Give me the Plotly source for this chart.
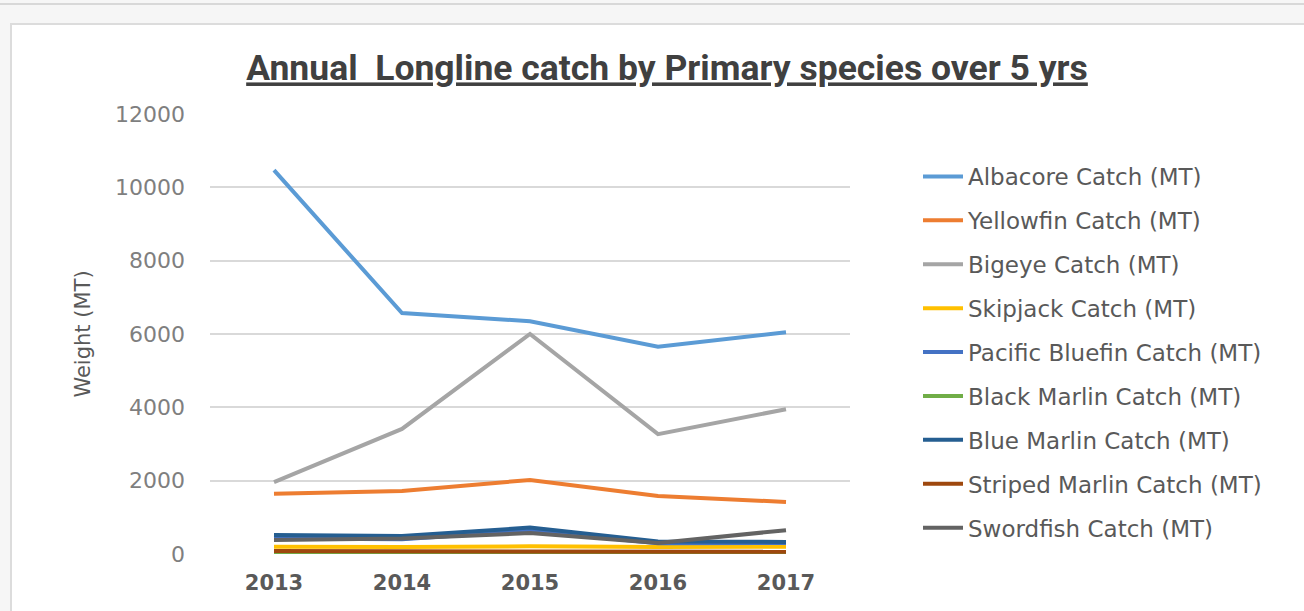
import plotly.graph_objects as go

years = [2013, 2014, 2015, 2016, 2017]
albacore = [10470, 6570, 6350, 5650, 6050]
yellowfin = [1640, 1720, 2020, 1580, 1420]
bigeye = [1960, 3410, 6000, 3270, 3950]
skipjack = [200, 190, 210, 190, 200]
pacific_bluefin = [420, 400, 640, 290, 300]
black_marlin = [30, 25, 30, 25, 30]
blue_marlin = [520, 490, 720, 340, 330]
striped_marlin = [80, 70, 70, 70, 60]
swordfish = [380, 420, 570, 300, 650]

series = [
    ("Albacore Catch (MT)", albacore, "#5B9BD5"),
    ("Yellowfin Catch (MT)", yellowfin, "#ED7D31"),
    ("Bigeye Catch (MT)", bigeye, "#A5A5A5"),
    ("Skipjack Catch (MT)", skipjack, "#FFC000"),
    ("Pacific Bluefin Catch (MT)", pacific_bluefin, "#4472C4"),
    ("Black Marlin Catch (MT)", black_marlin, "#70AD47"),
    ("Blue Marlin Catch (MT)", blue_marlin, "#255E91"),
    ("Striped Marlin Catch (MT)", striped_marlin, "#9E480E"),
    ("Swordfish Catch (MT)", swordfish, "#636363"),
]

fig = go.Figure()
for i, (name, vals, col) in enumerate(series):
    fig.add_trace(go.Scatter(x=years, y=vals, mode="lines", name=name,
                             legendgroup=f"g{i}",
                             line=dict(color=col, width=4)))

W, H = 1304, 611
L, R, T, B = 210, 850, 114, 554


def sx(p):
    return (p - L) / (R - L)


def sy(p):
    return (B - p) / (B - T)


shapes = [
    dict(type="line", xref="paper", yref="paper", x0=sx(0), x1=sx(W), y0=sy(4), y1=sy(4),
         line=dict(color="#d8d8d8", width=2), layer="below"),
    dict(type="rect", xref="paper", yref="paper", x0=sx(11), x1=sx(W + 6), y0=sy(H + 6), y1=sy(24),
         line=dict(color="#dcdcdc", width=2), fillcolor="white", layer="below"),
]

fig.update_layout(
    width=W, height=H,
    margin=dict(l=L, r=W - R, t=T, b=H - B),
    paper_bgcolor="#f6f6f6",
    plot_bgcolor="white",
    font=dict(family="DejaVu Sans", color="#595959"),
    title=dict(text="<u>Annual  Longline catch by Primary species over 5 yrs</u>",
               x=667 / W, xanchor="center", y=1 - 68 / H, yanchor="middle",
               font=dict(family="Roboto", size=35.5, weight="bold", color="#404040")),
    xaxis=dict(range=[2012.5, 2017.5], tickvals=years, ticktext=[str(y) for y in years],
               showgrid=False, zeroline=False, showline=False,
               tickfont=dict(family="DejaVu Sans", size=21, weight="bold", color="#595959"),
               ticks="", ticklabelstandoff=14),
    yaxis=dict(range=[0, 12000], dtick=2000, tickformat="d", showgrid=True,
               gridcolor="#d9d9d9", gridwidth=1.5,
               zeroline=False, showline=False, ticks="",
               tickfont=dict(family="DejaVu Sans", size=22, color="#7f7f7f"),
               ticklabelstandoff=24,
               title=dict(text="Weight (MT)", font=dict(size=21, color="#595959"), standoff=18)),
    legend=dict(x=sx(918), xanchor="left", y=sy(155), yanchor="top",
                font=dict(family="DejaVu Sans", size=23, color="#595959"), tracegroupgap=11,
                bgcolor="rgba(0,0,0,0)", itemwidth=40),
    showlegend=True,
    shapes=shapes,
)
fig.write_html("out.html")
